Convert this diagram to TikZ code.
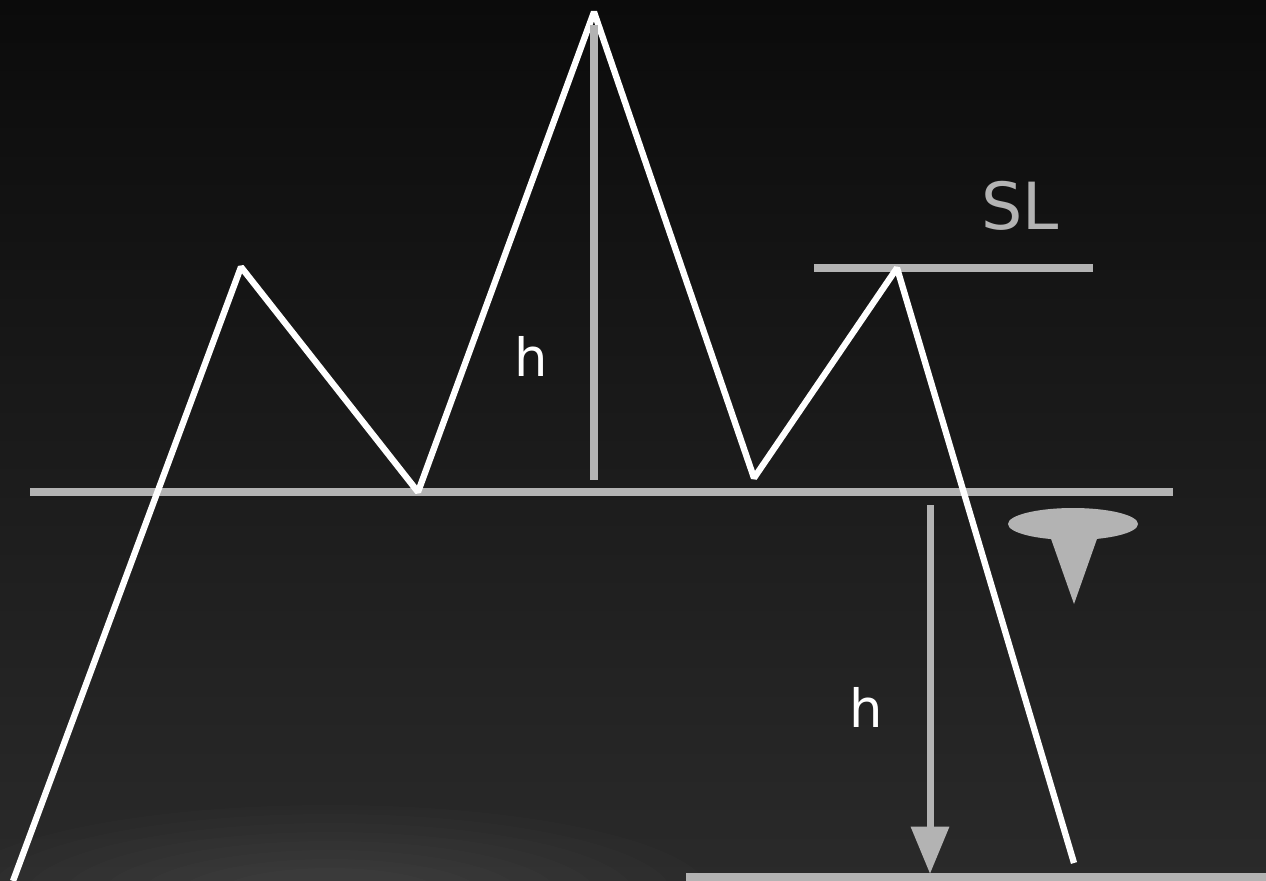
\documentclass[tikz,border=0pt]{standalone}
\usepackage{fontspec}
\setmainfont{DejaVu Sans}
\usetikzlibrary{arrows.meta}
\definecolor{bgtop}{HTML}{0B0B0B}
\definecolor{bgbot}{HTML}{2A2A2A}
\definecolor{lgray}{HTML}{B3B3B3}
\tikzset{
  wline/.style={draw=white,line width=3.6pt,line join=bevel},
  gline/.style={draw=lgray,line width=4pt},
  lbl/.style={inner sep=0pt,font=\fontsize{30}{30}\selectfont}
}
\begin{document}
\begin{tikzpicture}[x=0.02cm,y=-0.02cm]
\useasboundingbox (0,0) rectangle (1266,881);
\shade[top color=bgtop,bottom color=bgbot] (0,0) rectangle (1266,881);
\begin{scope}
\clip (0,0) rectangle (1266,881);
\foreach \r in {1.0,0.9,0.8,0.7,0.6,0.5,0.4,0.3}
  \fill[white,opacity=0.011] (330,895) ellipse [x radius=380*\r,y radius=90*\r];
\end{scope}
% coordinates
\coordinate (p0) at (13,881);
\coordinate (p1) at (241,267);
\coordinate (p2) at (418,492);
\coordinate (p3) at (594,12);
\coordinate (p4) at (754,478);
\coordinate (p5) at (897,268);
\coordinate (p6) at (1074,863);
\coordinate (nl0) at (30,492);
\coordinate (nl1) at (1173,492);
\coordinate (sl0) at (814,268);
\coordinate (sl1) at (1093,268);
\coordinate (v0) at (594,25);
\coordinate (v1) at (594,480);
\coordinate (a0) at (930,505);
\coordinate (a1) at (930,874);
\coordinate (b0) at (686,877);
\coordinate (b1) at (1266,877);
% neckline and others
\draw[gline] (nl0) -- (nl1);
\draw[gline] (sl0) -- (sl1);
\draw[gline] (b0) -- (b1);
% pattern
\draw[wline] (p0) -- (p1) -- (p2) -- (p3) -- (p4) -- (p5) -- (p6);
% verticals
\draw[gline] (v0) -- (v1);
\draw[gline,-{Triangle[length=27pt,width=21pt]}] (a0) -- (a1);
% funnel
\fill[lgray] (1073,524) ellipse [x radius=65,y radius=16];
\fill[lgray] (1050,536) -- (1098,536) -- (1074,604) -- cycle;
% labels
\node[lbl,text=white] (h1) at (531,356) {h};
\node[lbl,text=white] (h2) at (866,707) {h};
\node[lbl,text=lgray,font=\fontsize{37}{37}\selectfont] (sl) at (1020,206) {SL};
\end{tikzpicture}
\end{document}
